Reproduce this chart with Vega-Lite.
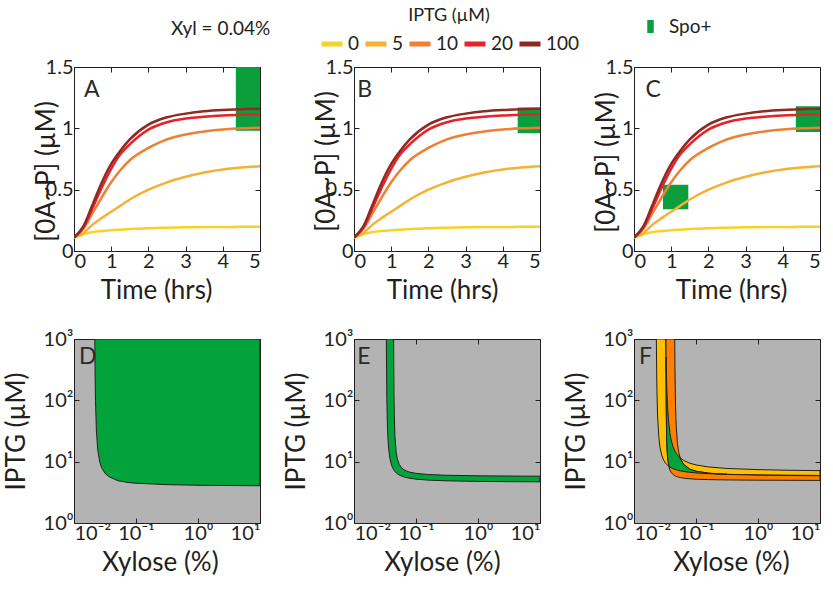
{
  "$schema": "https://vega.github.io/schema/vega-lite/v6.json",
  "autosize": {"type": "pad"},
  "padding": {"left": 2, "top": 7, "right": 0, "bottom": 0},
  "background": "white",
  "config": {
    "font": "Lato",
    "view": {"stroke": "#231f20", "strokeWidth": 1},
    "axis": {"labelFontSize": 20, "titleFontSize": 26, "titleFontWeight": "normal", "labelColor": "#231f20", "titleColor": "#231f20", "domain": false, "grid": false, "tickColor": "#231f20", "tickSize": -5, "tickWidth": 1, "titleBaseline": "middle"},
    "axisX": {"labelPadding": 5},
    "axisY": {"labelPadding": 6},
    "legend": {"labelColor": "#231f20", "titleColor": "#231f20", "padding": 0, "labelFont": "Lato", "titleFont": "Lato"},
    "title": {"color": "#231f20"}
  },
  "title": {"text": "Xyl = 0.04%", "anchor": "start", "frame": "group", "dx": 97, "dy": 36, "fontSize": 19, "fontWeight": "normal"},
  "datasets": {
    "curves": [
      {"iptg": 0, "t": 0, "v": 0.11}, {"iptg": 0, "t": 0.25, "v": 0.135}, {"iptg": 0, "t": 0.5, "v": 0.155}, {"iptg": 0, "t": 0.75, "v": 0.163}, {"iptg": 0, "t": 1, "v": 0.169}, {"iptg": 0, "t": 1.25, "v": 0.174}, {"iptg": 0, "t": 1.5, "v": 0.179}, {"iptg": 0, "t": 2, "v": 0.186}, {"iptg": 0, "t": 2.5, "v": 0.19}, {"iptg": 0, "t": 3, "v": 0.193}, {"iptg": 0, "t": 3.5, "v": 0.195}, {"iptg": 0, "t": 4, "v": 0.196}, {"iptg": 0, "t": 4.5, "v": 0.197}, {"iptg": 0, "t": 5, "v": 0.198},
      {"iptg": 5, "t": 0, "v": 0.11}, {"iptg": 5, "t": 0.25, "v": 0.145}, {"iptg": 5, "t": 0.5, "v": 0.215}, {"iptg": 5, "t": 0.75, "v": 0.27}, {"iptg": 5, "t": 1, "v": 0.32}, {"iptg": 5, "t": 1.25, "v": 0.37}, {"iptg": 5, "t": 1.5, "v": 0.42}, {"iptg": 5, "t": 2, "v": 0.5}, {"iptg": 5, "t": 2.5, "v": 0.56}, {"iptg": 5, "t": 3, "v": 0.605}, {"iptg": 5, "t": 3.5, "v": 0.64}, {"iptg": 5, "t": 4, "v": 0.665}, {"iptg": 5, "t": 4.5, "v": 0.68}, {"iptg": 5, "t": 5, "v": 0.69},
      {"iptg": 10, "t": 0, "v": 0.11}, {"iptg": 10, "t": 0.25, "v": 0.18}, {"iptg": 10, "t": 0.5, "v": 0.31}, {"iptg": 10, "t": 0.75, "v": 0.44}, {"iptg": 10, "t": 1, "v": 0.56}, {"iptg": 10, "t": 1.25, "v": 0.66}, {"iptg": 10, "t": 1.5, "v": 0.74}, {"iptg": 10, "t": 2, "v": 0.84}, {"iptg": 10, "t": 2.5, "v": 0.91}, {"iptg": 10, "t": 3, "v": 0.95}, {"iptg": 10, "t": 3.5, "v": 0.975}, {"iptg": 10, "t": 4, "v": 0.99}, {"iptg": 10, "t": 4.5, "v": 1.0}, {"iptg": 10, "t": 5, "v": 1.005},
      {"iptg": 20, "t": 0, "v": 0.11}, {"iptg": 20, "t": 0.25, "v": 0.19}, {"iptg": 20, "t": 0.5, "v": 0.35}, {"iptg": 20, "t": 0.75, "v": 0.52}, {"iptg": 20, "t": 1, "v": 0.67}, {"iptg": 20, "t": 1.25, "v": 0.79}, {"iptg": 20, "t": 1.5, "v": 0.87}, {"iptg": 20, "t": 2, "v": 0.99}, {"iptg": 20, "t": 2.5, "v": 1.05}, {"iptg": 20, "t": 3, "v": 1.08}, {"iptg": 20, "t": 3.5, "v": 1.095}, {"iptg": 20, "t": 4, "v": 1.105}, {"iptg": 20, "t": 4.5, "v": 1.11}, {"iptg": 20, "t": 5, "v": 1.115},
      {"iptg": 100, "t": 0, "v": 0.11}, {"iptg": 100, "t": 0.25, "v": 0.2}, {"iptg": 100, "t": 0.5, "v": 0.38}, {"iptg": 100, "t": 0.75, "v": 0.56}, {"iptg": 100, "t": 1, "v": 0.71}, {"iptg": 100, "t": 1.25, "v": 0.82}, {"iptg": 100, "t": 1.5, "v": 0.91}, {"iptg": 100, "t": 2, "v": 1.03}, {"iptg": 100, "t": 2.5, "v": 1.09}, {"iptg": 100, "t": 3, "v": 1.12}, {"iptg": 100, "t": 3.5, "v": 1.14}, {"iptg": 100, "t": 4, "v": 1.15}, {"iptg": 100, "t": 4.5, "v": 1.155}, {"iptg": 100, "t": 5, "v": 1.16}
    ],
    "spo": [
      {"panel": "A", "t0": 4.35, "t1": 5, "v0": 0.98, "v1": 1.5, "label": "Spo+"},
      {"panel": "B", "t0": 4.4, "t1": 5, "v0": 0.96, "v1": 1.17, "label": "Spo+"},
      {"panel": "C", "t0": 4.35, "t1": 5, "v0": 0.97, "v1": 1.18, "label": "Spo+"},
      {"panel": "C", "t0": 0.78, "t1": 1.46, "v0": 0.34, "v1": 0.54, "label": "Spo+"}
    ],
    "letters": [
      {"panel": "A", "t": 0.27, "v": 1.31, "label": "A"},
      {"panel": "B", "t": 0.09, "v": 1.31, "label": "B"},
      {"panel": "C", "t": 0.31, "v": 1.31, "label": "C"},
      {"panel": "D", "x": 0.012, "y": 510, "label": "D"},
      {"panel": "E", "x": 0.0113, "y": 510, "label": "E"},
      {"panel": "F", "x": 0.012, "y": 510, "label": "F"}
    ],
    "regionD": [
      {"x": 0.02164, "lo": 1000}, {"x": 0.02185, "lo": 316}, {"x": 0.02221, "lo": 100}, {"x": 0.02297, "lo": 31.6}, {"x": 0.02411, "lo": 15.8}, {"x": 0.02593, "lo": 10}, {"x": 0.02788, "lo": 7.94}, {"x": 0.03233, "lo": 6.31}, {"x": 0.0376, "lo": 5.62}, {"x": 0.0512, "lo": 4.88}, {"x": 0.0774, "lo": 4.55}, {"x": 0.1, "lo": 4.45}, {"x": 0.316, "lo": 4.22}, {"x": 1, "lo": 4.13}, {"x": 3.16, "lo": 4.08}, {"x": 10, "lo": 4.05}
    ],
    "bandE": [
      {"x": 0.03322, "lo": 1000, "hi": 1000}, {"x": 0.03388, "lo": 102, "hi": 1000}, {"x": 0.03467, "lo": 36.3, "hi": 1000}, {"x": 0.03548, "lo": 21.6, "hi": 1000}, {"x": 0.03631, "lo": 15.85, "hi": 1000}, {"x": 0.03802, "lo": 11.1, "hi": 1000}, {"x": 0.03981, "lo": 9.12, "hi": 1000}, {"x": 0.04169, "lo": 8.04, "hi": 1000}, {"x": 0.04355, "lo": 7.41, "hi": 1000}, {"x": 0.04416, "lo": 7.24, "hi": 122}, {"x": 0.04467, "lo": 7.13, "hi": 56.9}, {"x": 0.04571, "lo": 6.92, "hi": 26.4}, {"x": 0.04786, "lo": 6.59, "hi": 14.3}, {"x": 0.05012, "lo": 6.34, "hi": 10.98}, {"x": 0.0537, "lo": 6.06, "hi": 9.02}, {"x": 0.05754, "lo": 5.86, "hi": 8.11}, {"x": 0.0631, "lo": 5.66, "hi": 7.46}, {"x": 0.07079, "lo": 5.49, "hi": 7.01}, {"x": 0.07943, "lo": 5.36, "hi": 6.75}, {"x": 0.1, "lo": 5.19, "hi": 6.44}, {"x": 0.1585, "lo": 5.0, "hi": 6.17}, {"x": 0.3162, "lo": 4.87, "hi": 6.0}, {"x": 1, "lo": 4.76, "hi": 5.88}, {"x": 3.162, "lo": 4.72, "hi": 5.83}, {"x": 10, "lo": 4.69, "hi": 5.8}
    ],
    "bandFy": [
      {"x": 0.02294, "lo": 1000, "hi": 1000}, {"x": 0.02317, "lo": 326, "hi": 1000}, {"x": 0.02344, "lo": 145.5, "hi": 1000}, {"x": 0.02399, "lo": 57.9, "hi": 1000}, {"x": 0.02512, "lo": 25.1, "hi": 1000}, {"x": 0.0263, "lo": 16.97, "hi": 1000}, {"x": 0.02818, "lo": 12.48, "hi": 1000}, {"x": 0.0302, "lo": 10.53, "hi": 1000}, {"x": 0.03255, "lo": 9.37, "hi": 1000}, {"x": 0.03311, "lo": 9.18, "hi": 350}, {"x": 0.03388, "lo": 8.96, "hi": 145.6}, {"x": 0.03467, "lo": 8.76, "hi": 83.4}, {"x": 0.03631, "lo": 8.43, "hi": 42.7}, {"x": 0.03802, "lo": 8.16, "hi": 28.9}, {"x": 0.03981, "lo": 7.95, "hi": 22.5}, {"x": 0.04266, "lo": 7.69, "hi": 17.5}, {"x": 0.04677, "lo": 7.43, "hi": 14.27}, {"x": 0.05248, "lo": 7.18, "hi": 12.17}, {"x": 0.0631, "lo": 6.92, "hi": 10.48}, {"x": 0.07943, "lo": 6.7, "hi": 9.43}, {"x": 0.1, "lo": 6.55, "hi": 8.84}, {"x": 0.1585, "lo": 6.37, "hi": 8.2}, {"x": 0.3162, "lo": 6.21, "hi": 7.75}, {"x": 1, "lo": 6.08, "hi": 7.41}, {"x": 3.162, "lo": 6.02, "hi": 7.24}, {"x": 10, "lo": 5.97, "hi": 7.14}
    ],
    "bandFo": [
      {"x": 0.03276, "lo": 1000, "hi": 1000}, {"x": 0.03311, "lo": 77.6, "hi": 1000}, {"x": 0.0335, "lo": 30.9, "hi": 1000}, {"x": 0.03388, "lo": 19.5, "hi": 1000}, {"x": 0.03467, "lo": 12.3, "hi": 1000}, {"x": 0.03631, "lo": 8.51, "hi": 1000}, {"x": 0.03802, "lo": 7.27, "hi": 1000}, {"x": 0.03981, "lo": 6.66, "hi": 1000}, {"x": 0.04266, "lo": 6.17, "hi": 1000}, {"x": 0.04537, "lo": 5.91, "hi": 1000}, {"x": 0.04571, "lo": 5.89, "hi": 380.6}, {"x": 0.04677, "lo": 5.82, "hi": 80.4}, {"x": 0.04786, "lo": 5.76, "hi": 39.3}, {"x": 0.05012, "lo": 5.66, "hi": 20.0}, {"x": 0.05248, "lo": 5.59, "hi": 14.44}, {"x": 0.05623, "lo": 5.5, "hi": 11.13}, {"x": 0.0631, "lo": 5.39, "hi": 9.01}, {"x": 0.07943, "lo": 5.26, "hi": 7.54}, {"x": 0.1, "lo": 5.18, "hi": 6.98}, {"x": 0.1585, "lo": 5.1, "hi": 6.5}, {"x": 0.3162, "lo": 5.04, "hi": 6.21}, {"x": 1, "lo": 4.99, "hi": 6.02}, {"x": 3.162, "lo": 4.97, "hi": 5.94}, {"x": 10, "lo": 4.95, "hi": 5.89}
    ],
    "bandFg": [
      {"x": 0.03283, "lo": 400, "hi": 400}, {"x": 0.03289, "lo": 253.7, "hi": 507}, {"x": 0.03311, "lo": 77.6, "hi": 350}, {"x": 0.0335, "lo": 30.9, "hi": 213.8}, {"x": 0.03388, "lo": 19.5, "hi": 145.6}, {"x": 0.03467, "lo": 12.3, "hi": 83.4}, {"x": 0.03631, "lo": 8.51, "hi": 42.7}, {"x": 0.03802, "lo": 8.16, "hi": 28.9}, {"x": 0.03981, "lo": 7.95, "hi": 22.5}, {"x": 0.04266, "lo": 7.69, "hi": 17.5}, {"x": 0.04571, "lo": 7.48, "hi": 14.89}, {"x": 0.04677, "lo": 7.43, "hi": 14.27}, {"x": 0.04786, "lo": 7.37, "hi": 13.73}, {"x": 0.05012, "lo": 7.27, "hi": 12.86}, {"x": 0.05248, "lo": 7.18, "hi": 12.17}, {"x": 0.05623, "lo": 7.07, "hi": 11.13}, {"x": 0.0631, "lo": 6.92, "hi": 9.01}, {"x": 0.07943, "lo": 6.7, "hi": 7.54}, {"x": 0.1, "lo": 6.55, "hi": 6.98}, {"x": 0.1585, "lo": 6.37, "hi": 6.5}, {"x": 0.2512, "lo": 6.26, "hi": 6.28}, {"x": 0.3162, "lo": 6.21, "hi": 6.21}
    ]
  },
  "bounds": "flush",
  "columns": 3,
  "spacing": {"row": 88, "column": 94},
  "resolve": {"scale": {"x": "independent", "y": "independent"}},
  "concat": [
    {
      "width": 186, "height": 184,
      "layer": [
        {"data": {"name": "spo"}, "transform": [{"filter": "datum.panel == 'A'"}], "mark": {"type": "rect", "clip": true},
         "encoding": {
           "x": {"field": "t0", "type": "quantitative", "scale": {"domain": [0, 5], "nice": false}, "axis": {"orient": "bottom", "title": "Time (hrs)", "values": [0, 1, 2, 3, 4, 5], "titleX": 82, "titleY": 39}},
           "x2": {"field": "t1"},
           "y": {"field": "v0", "type": "quantitative", "scale": {"domain": [0, 1.5], "nice": false}, "axis": {"orient": "left", "title": "[0A~P] (µM)", "values": [0, 0.5, 1, 1.5], "labelExpr": "datum.value + ''", "titleX": -28, "titleY": 104}},
           "y2": {"field": "v1"},
           "fill": {"field": "label", "type": "nominal", "scale": {"domain": ["Spo+"], "range": ["#0a9f3c"]}, "legend": {"title": null, "orient": "none", "legendX": 567, "legendY": -50, "symbolType": "M-0.5,-1L0.5,-1L0.5,1L-0.5,1Z", "symbolSize": 169, "symbolStrokeWidth": 0, "labelFontSize": 19, "labelOffset": 9}}
         }},
        {"data": {"name": "curves"}, "mark": {"type": "line", "strokeWidth": 2.5, "interpolate": "monotone", "clip": true},
         "encoding": {
           "x": {"field": "t", "type": "quantitative", "scale": {"domain": [0, 5], "nice": false}, "axis": {"orient": "top", "labels": false, "title": null, "values": [0, 1, 2, 3, 4, 5]}},
           "y": {"field": "v", "type": "quantitative", "scale": {"domain": [0, 1.5], "nice": false}, "axis": {"orient": "right", "labels": false, "title": null, "values": [0, 0.5, 1, 1.5]}},
           "stroke": {"field": "iptg", "type": "nominal", "scale": {"domain": [0, 5, 10, 20, 100], "range": ["#f5d327", "#f6b133", "#ef7f31", "#e8222a", "#8c2a23"]}, "legend": {"title": "IPTG (µM)", "orient": "none", "legendX": 245, "legendY": -60, "direction": "horizontal", "symbolType": "stroke", "symbolStrokeWidth": 5, "symbolSize": 441, "labelFontSize": 19, "titleFontSize": 18, "titleFontWeight": "normal", "titleAnchor": "middle", "columnPadding": -5, "labelOffset": 3, "titlePadding": 6}}
         }},
        {"data": {"name": "letters"}, "transform": [{"filter": "datum.panel == 'A'"}], "mark": {"type": "text", "align": "left", "baseline": "middle", "fontSize": 23, "color": "#2a2a2a"},
         "encoding": {
           "x": {"field": "t", "type": "quantitative", "scale": {"domain": [0, 5], "nice": false}, "axis": null},
           "y": {"field": "v", "type": "quantitative", "scale": {"domain": [0, 1.5], "nice": false}, "axis": null},
           "text": {"field": "label"}
         }}
      ],
      "resolve": {"axis": {"x": "independent", "y": "independent"}}
    },
    {
      "width": 186, "height": 184,
      "layer": [
        {"data": {"name": "spo"}, "transform": [{"filter": "datum.panel == 'B'"}], "mark": {"type": "rect", "clip": true},
         "encoding": {
           "x": {"field": "t0", "type": "quantitative", "scale": {"domain": [0, 5], "nice": false}, "axis": {"orient": "bottom", "title": "Time (hrs)", "values": [0, 1, 2, 3, 4, 5], "titleX": 88, "titleY": 39}},
           "x2": {"field": "t1"},
           "y": {"field": "v0", "type": "quantitative", "scale": {"domain": [0, 1.5], "nice": false}, "axis": {"orient": "left", "title": "[0A~P]  (µM)", "values": [0, 0.5, 1, 1.5], "labelExpr": "datum.value + ''", "titleX": -28, "titleY": 94}},
           "y2": {"field": "v1"},
           "fill": {"field": "label", "type": "nominal", "scale": {"domain": ["Spo+"], "range": ["#0a9f3c"]}, "legend": {"title": null, "orient": "none", "legendX": 567, "legendY": -50, "symbolType": "M-0.5,-1L0.5,-1L0.5,1L-0.5,1Z", "symbolSize": 169, "symbolStrokeWidth": 0, "labelFontSize": 19, "labelOffset": 9}}
         }},
        {"data": {"name": "curves"}, "mark": {"type": "line", "strokeWidth": 2.5, "interpolate": "monotone", "clip": true},
         "encoding": {
           "x": {"field": "t", "type": "quantitative", "scale": {"domain": [0, 5], "nice": false}, "axis": {"orient": "top", "labels": false, "title": null, "values": [0, 1, 2, 3, 4, 5]}},
           "y": {"field": "v", "type": "quantitative", "scale": {"domain": [0, 1.5], "nice": false}, "axis": {"orient": "right", "labels": false, "title": null, "values": [0, 0.5, 1, 1.5]}},
           "stroke": {"field": "iptg", "type": "nominal", "scale": {"domain": [0, 5, 10, 20, 100], "range": ["#f5d327", "#f6b133", "#ef7f31", "#e8222a", "#8c2a23"]}, "legend": {"title": "IPTG (µM)", "orient": "none", "legendX": 245, "legendY": -60, "direction": "horizontal", "symbolType": "stroke", "symbolStrokeWidth": 5, "symbolSize": 441, "labelFontSize": 19, "titleFontSize": 18, "titleFontWeight": "normal", "titleAnchor": "middle", "columnPadding": -5, "labelOffset": 3, "titlePadding": 6}}
         }},
        {"data": {"name": "letters"}, "transform": [{"filter": "datum.panel == 'B'"}], "mark": {"type": "text", "align": "left", "baseline": "middle", "fontSize": 23, "color": "#2a2a2a"},
         "encoding": {
           "x": {"field": "t", "type": "quantitative", "scale": {"domain": [0, 5], "nice": false}, "axis": null},
           "y": {"field": "v", "type": "quantitative", "scale": {"domain": [0, 1.5], "nice": false}, "axis": null},
           "text": {"field": "label"}
         }}
      ],
      "resolve": {"axis": {"x": "independent", "y": "independent"}}
    },
    {
      "width": 186, "height": 184,
      "layer": [
        {"data": {"name": "spo"}, "transform": [{"filter": "datum.panel == 'C'"}], "mark": {"type": "rect", "clip": true},
         "encoding": {
           "x": {"field": "t0", "type": "quantitative", "scale": {"domain": [0, 5], "nice": false}, "axis": {"orient": "bottom", "title": "Time (hrs)", "values": [0, 1, 2, 3, 4, 5], "titleX": 97, "titleY": 39}},
           "x2": {"field": "t1"},
           "y": {"field": "v0", "type": "quantitative", "scale": {"domain": [0, 1.5], "nice": false}, "axis": {"orient": "left", "title": "[0A~P]  (µM)", "values": [0, 0.5, 1, 1.5], "labelExpr": "datum.value + ''", "titleX": -28, "titleY": 95}},
           "y2": {"field": "v1"},
           "fill": {"field": "label", "type": "nominal", "scale": {"domain": ["Spo+"], "range": ["#0a9f3c"]}, "legend": {"title": null, "orient": "none", "legendX": 567, "legendY": -50, "symbolType": "M-0.5,-1L0.5,-1L0.5,1L-0.5,1Z", "symbolSize": 169, "symbolStrokeWidth": 0, "labelFontSize": 19, "labelOffset": 9}}
         }},
        {"data": {"name": "curves"}, "mark": {"type": "line", "strokeWidth": 2.5, "interpolate": "monotone", "clip": true},
         "encoding": {
           "x": {"field": "t", "type": "quantitative", "scale": {"domain": [0, 5], "nice": false}, "axis": {"orient": "top", "labels": false, "title": null, "values": [0, 1, 2, 3, 4, 5]}},
           "y": {"field": "v", "type": "quantitative", "scale": {"domain": [0, 1.5], "nice": false}, "axis": {"orient": "right", "labels": false, "title": null, "values": [0, 0.5, 1, 1.5]}},
           "stroke": {"field": "iptg", "type": "nominal", "scale": {"domain": [0, 5, 10, 20, 100], "range": ["#f5d327", "#f6b133", "#ef7f31", "#e8222a", "#8c2a23"]}, "legend": {"title": "IPTG (µM)", "orient": "none", "legendX": 245, "legendY": -60, "direction": "horizontal", "symbolType": "stroke", "symbolStrokeWidth": 5, "symbolSize": 441, "labelFontSize": 19, "titleFontSize": 18, "titleFontWeight": "normal", "titleAnchor": "middle", "columnPadding": -5, "labelOffset": 3, "titlePadding": 6}}
         }},
        {"data": {"name": "letters"}, "transform": [{"filter": "datum.panel == 'C'"}], "mark": {"type": "text", "align": "left", "baseline": "middle", "fontSize": 23, "color": "#2a2a2a"},
         "encoding": {
           "x": {"field": "t", "type": "quantitative", "scale": {"domain": [0, 5], "nice": false}, "axis": null},
           "y": {"field": "v", "type": "quantitative", "scale": {"domain": [0, 1.5], "nice": false}, "axis": null},
           "text": {"field": "label"}
         }}
      ],
      "resolve": {"axis": {"x": "independent", "y": "independent"}}
    },
    {
      "width": 186, "height": 184,
      "view": {"fill": "#b3b3b3"},
      "layer": [
        {"data": {"name": "regionD"}, "mark": {"type": "area", "fill": "#03a33b", "stroke": "#231f20", "strokeWidth": 1, "clip": true},
         "encoding": {
           "x": {"field": "x", "type": "quantitative", "scale": {"type": "log", "domain": [0.01, 10], "nice": false}, "axis": {"orient": "bottom", "title": "Xylose (%)", "values": [0.01, 0.1, 1, 10], "labelExpr": "datum.value < 0.05 ? '10⁻²' : datum.value < 0.5 ? '10⁻¹' : datum.value < 5 ? '10⁰' : '10¹'", "titleX": 86, "titleY": 39}},
           "y": {"field": "lo", "type": "quantitative", "scale": {"type": "log", "domain": [1, 1000], "nice": false}, "axis": {"orient": "left", "title": "IPTG (µM)", "values": [1, 10, 100, 1000], "labelExpr": "datum.value < 5 ? '10⁰' : datum.value < 50 ? '10¹' : datum.value < 500 ? '10²' : '10³'", "titleX": -58}},
           "y2": {"datum": 1000}
         }},
        {"data": {"name": "letters"}, "transform": [{"filter": "datum.panel == 'D'"}], "mark": {"type": "text", "align": "left", "baseline": "middle", "fontSize": 23, "color": "#2a2a2a"},
         "encoding": {
           "x": {"field": "x", "type": "quantitative", "scale": {"type": "log", "domain": [0.01, 10], "nice": false}, "axis": {"orient": "top", "labels": false, "title": null, "values": [0.01, 0.1, 1, 10]}},
           "y": {"field": "y", "type": "quantitative", "scale": {"type": "log", "domain": [1, 1000], "nice": false}, "axis": {"orient": "right", "labels": false, "title": null, "values": [1, 10, 100, 1000]}},
           "text": {"field": "label"}
         }}
      ],
      "resolve": {"axis": {"x": "independent", "y": "independent"}}
    },
    {
      "width": 186, "height": 184,
      "view": {"fill": "#b3b3b3"},
      "layer": [
        {"data": {"name": "bandE"}, "mark": {"type": "area", "fill": "#03a33b", "stroke": "#231f20", "strokeWidth": 1, "clip": true},
         "encoding": {
           "x": {"field": "x", "type": "quantitative", "scale": {"type": "log", "domain": [0.01, 10], "nice": false}, "axis": {"orient": "bottom", "title": "Xylose (%)", "values": [0.01, 0.1, 1, 10], "labelExpr": "datum.value < 0.05 ? '10⁻²' : datum.value < 0.5 ? '10⁻¹' : datum.value < 5 ? '10⁰' : '10¹'", "titleX": 88, "titleY": 39}},
           "y": {"field": "lo", "type": "quantitative", "scale": {"type": "log", "domain": [1, 1000], "nice": false}, "axis": {"orient": "left", "title": "IPTG (µM)", "values": [1, 10, 100, 1000], "labelExpr": "datum.value < 5 ? '10⁰' : datum.value < 50 ? '10¹' : datum.value < 500 ? '10²' : '10³'", "titleX": -58}},
           "y2": {"field": "hi"}
         }},
        {"data": {"name": "letters"}, "transform": [{"filter": "datum.panel == 'E'"}], "mark": {"type": "text", "align": "left", "baseline": "middle", "fontSize": 23, "color": "#2a2a2a"},
         "encoding": {
           "x": {"field": "x", "type": "quantitative", "scale": {"type": "log", "domain": [0.01, 10], "nice": false}, "axis": {"orient": "top", "labels": false, "title": null, "values": [0.01, 0.1, 1, 10]}},
           "y": {"field": "y", "type": "quantitative", "scale": {"type": "log", "domain": [1, 1000], "nice": false}, "axis": {"orient": "right", "labels": false, "title": null, "values": [1, 10, 100, 1000]}},
           "text": {"field": "label"}
         }}
      ],
      "resolve": {"axis": {"x": "independent", "y": "independent"}}
    },
    {
      "width": 186, "height": 184,
      "view": {"fill": "#b3b3b3"},
      "layer": [
        {"data": {"name": "bandFy"}, "mark": {"type": "area", "fill": "#ffc000", "stroke": "#231f20", "strokeWidth": 1, "clip": true},
         "encoding": {
           "x": {"field": "x", "type": "quantitative", "scale": {"type": "log", "domain": [0.01, 10], "nice": false}, "axis": {"orient": "bottom", "title": "Xylose (%)", "values": [0.01, 0.1, 1, 10], "labelExpr": "datum.value < 0.05 ? '10⁻²' : datum.value < 0.5 ? '10⁻¹' : datum.value < 5 ? '10⁰' : '10¹'", "titleX": 97, "titleY": 39}},
           "y": {"field": "lo", "type": "quantitative", "scale": {"type": "log", "domain": [1, 1000], "nice": false}, "axis": {"orient": "left", "title": "IPTG (µM)", "values": [1, 10, 100, 1000], "labelExpr": "datum.value < 5 ? '10⁰' : datum.value < 50 ? '10¹' : datum.value < 500 ? '10²' : '10³'", "titleX": -58}},
           "y2": {"field": "hi"}
         }},
        {"data": {"name": "bandFo"}, "mark": {"type": "area", "fill": "#ff7f00", "stroke": "#231f20", "strokeWidth": 1, "clip": true},
         "encoding": {
           "x": {"field": "x", "type": "quantitative", "scale": {"type": "log", "domain": [0.01, 10], "nice": false}, "axis": null},
           "y": {"field": "lo", "type": "quantitative", "scale": {"type": "log", "domain": [1, 1000], "nice": false}, "axis": null},
           "y2": {"field": "hi"}
         }},
        {"data": {"name": "bandFg"}, "mark": {"type": "area", "fill": "#03a33b", "stroke": "#231f20", "strokeWidth": 1, "clip": true},
         "encoding": {
           "x": {"field": "x", "type": "quantitative", "scale": {"type": "log", "domain": [0.01, 10], "nice": false}, "axis": null},
           "y": {"field": "lo", "type": "quantitative", "scale": {"type": "log", "domain": [1, 1000], "nice": false}, "axis": null},
           "y2": {"field": "hi"}
         }},
        {"data": {"name": "letters"}, "transform": [{"filter": "datum.panel == 'F'"}], "mark": {"type": "text", "align": "left", "baseline": "middle", "fontSize": 23, "color": "#2a2a2a"},
         "encoding": {
           "x": {"field": "x", "type": "quantitative", "scale": {"type": "log", "domain": [0.01, 10], "nice": false}, "axis": {"orient": "top", "labels": false, "title": null, "values": [0.01, 0.1, 1, 10]}},
           "y": {"field": "y", "type": "quantitative", "scale": {"type": "log", "domain": [1, 1000], "nice": false}, "axis": {"orient": "right", "labels": false, "title": null, "values": [1, 10, 100, 1000]}},
           "text": {"field": "label"}
         }}
      ],
      "resolve": {"axis": {"x": "independent", "y": "independent"}}
    }
  ]
}
